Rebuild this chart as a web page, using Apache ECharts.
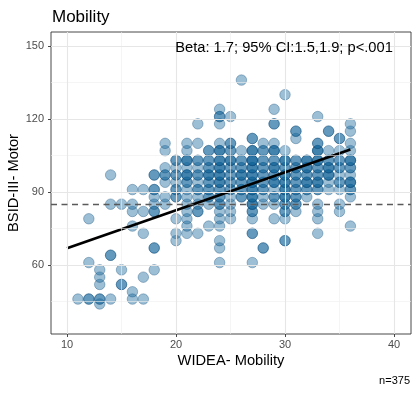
<!DOCTYPE html>
<html><head><meta charset="utf-8">
<script src="https://cdn.jsdelivr.net/npm/echarts@6/dist/echarts.min.js"></script>
<style>html,body{margin:0;padding:0;background:#fff}#c{width:418px;height:393px}</style>
</head><body><div id="c"></div>
<script>
// WIDEA mobility score (x) and BSID-III motor scores observed at that score
const wideaX = [11,12,13,14,15,16,17,18,19,20,21,22,23,24,25,26,27,28,29,30,31,32,33,34,35,36];
const bsidByX = [
  [46],
  [46,46,61,79],
  [44,46,46,52,55,58],
  [46,64,64,85,97],
  [52,52,58,85],
  [46,49,76,82,85,91],
  [46,55,73,82,91],
  [58,67,67,82,82,85,88,91,91,97,97],
  [85,88,94,97,97,100,107,110],
  [70,73,79,88,88,91,91,94,97,97,100,103,103],
  [73,76,79,82,85,88,91,94,94,97,97,97,100,103,103,103,107,110],
  [73,82,82,85,88,91,91,94,97,97,100,103,103,110,118],
  [76,85,88,88,91,91,94,94,97,97,97,100,100,103,103,107,107],
  [61,67,70,76,79,82,85,85,88,88,91,91,94,94,94,97,97,97,100,100,100,103,103,103,107,107,107,110,118,121,121,124],
  [79,82,85,88,91,91,94,94,97,97,100,100,103,103,103,107,107,110,110,121],
  [88,88,91,91,94,94,97,97,97,100,100,103,103,107,136],
  [61,73,73,79,82,82,85,85,85,88,88,88,91,91,91,94,94,94,97,97,97,100,100,100,103,103,103,103,107,107,107,112,112],
  [67,67,85,88,91,91,94,94,97,97,100,100,103,103,107,107,110],
  [79,85,88,88,91,94,94,94,97,97,100,100,100,103,103,107,107,107,110,118,118,124],
  [70,70,79,82,82,85,85,88,88,88,91,91,91,94,94,94,97,97,97,100,100,103,103,103,107,130],
  [82,85,85,88,88,91,91,94,94,97,97,100,100,103,103,112,115,115],
  [88,91,91,94,94,94,97,97,100,100,100,103,103,103],
  [73,79,82,85,91,91,94,94,94,97,97,100,100,103,103,103,107,107,107,110,110,121],
  [91,94,97,97,97,100,100,100,103,103,107,115,115],
  [82,85,91,94,94,97,100,100,103,103,107,112,112],
  [76,88,91,91,94,94,94,97,100,100,103,103,103,107,110,115,118]
];
const fitX = [10, 36];
const fitY = [66.9, 107.5];
const refLineY = 85;
const xTicks = [10, 20, 30, 40];
const xMinor = [15, 25, 35];
const yTicks = [60, 90, 120, 150];
const yMinor = [45, 75, 105, 135];
const chartTitle = 'Mobility';
const xTitle = 'WIDEA- Mobility';
const yTitle = 'BSID-III- Motor';
const annotation = 'Beta: 1.7; 95% CI:1.5,1.9; p<.001';
const caption = 'n=375';

const points = [];
wideaX.forEach((x, i) => bsidByX[i].forEach(y => points.push([x, y])));
const fitData = fitX.map((x, i) => [x, fitY[i]]);

const FONT = 'Liberation Sans, Arial, Helvetica, sans-serif';
const gridLines = [].concat(
  xMinor.map(v => ({xAxis: v, lineStyle: {color: '#efefef', width: 0.6, type: 'solid'}})),
  yMinor.map(v => ({yAxis: v, lineStyle: {color: '#efefef', width: 0.6, type: 'solid'}})),
  xTicks.map(v => ({xAxis: v, lineStyle: {color: '#e6e6e6', width: 1.1, type: 'solid'}})),
  yTicks.map(v => ({yAxis: v, lineStyle: {color: '#e6e6e6', width: 1.1, type: 'solid'}}))
);

const chart = echarts.init(document.getElementById('c'), null, {renderer: 'canvas'});
chart.setOption({
  animation: false,
  backgroundColor: '#ffffff',
  title: {text: chartTitle, left: 47, top: 4, textStyle: {fontFamily: FONT, fontSize: 17, fontWeight: 'normal', color: '#000'}},
  grid: {left: 51, top: 32, width: 360, height: 302, show: true, borderColor: '#333333', borderWidth: 0.9, backgroundColor: 'transparent', containLabel: false, outerBoundsMode: 'none'},
  xAxis: {
    type: 'value', min: 8.53, max: 41.56,
    name: xTitle, nameLocation: 'middle', nameGap: 19, nameMoveOverlap: false,
    nameTextStyle: {fontFamily: FONT, fontSize: 14.7, color: '#000'},
    axisLine: {show: false},
    axisTick: {show: true, length: 3, lineStyle: {color: '#333', width: 0.9}, customValues: xTicks},
    axisLabel: {fontFamily: FONT, fontSize: 11, color: '#4d4d4d', margin: 5, customValues: xTicks},
    splitLine: {show: false}
  },
  yAxis: {
    type: 'value', min: 31.64, max: 155.76,
    name: yTitle, nameLocation: 'middle', nameGap: 30, nameRotate: 90, nameMoveOverlap: false,
    nameTextStyle: {fontFamily: FONT, fontSize: 14.7, color: '#000'},
    axisLine: {show: false},
    axisTick: {show: true, length: 3, lineStyle: {color: '#333', width: 0.9}, customValues: yTicks},
    axisLabel: {fontFamily: FONT, fontSize: 11, color: '#4d4d4d', margin: 7, customValues: yTicks},
    splitLine: {show: false}
  },
  series: [
    {
      type: 'scatter', data: [], z: 0, silent: true,
      markLine: {silent: true, symbol: 'none', label: {show: false}, animation: false, data: gridLines}
    },
    {
      type: 'scatter', data: points, symbolSize: 10.5, z: 2,
      itemStyle: {color: 'rgba(19,100,155,0.52)', borderColor: 'rgba(12,75,120,0.55)', borderWidth: 0.8}
    },
    {
      type: 'line', data: fitData, showSymbol: false, z: 4,
      lineStyle: {color: '#000', width: 2.7}
    },
    {
      type: 'scatter', data: [], z: 3, silent: true,
      markLine: {silent: true, symbol: 'none', label: {show: false}, animation: false,
        data: [{yAxis: refLineY, lineStyle: {color: '#5a5a5a', width: 1.3, type: [6, 4.5]}}]}
    }
  ],
  graphic: [
    {type: 'text', x: 284, y: 48, z: 100, style: {text: annotation, fontFamily: FONT, fontSize: 14.7, fill: '#000', stroke: null, lineWidth: 0, textAlign: 'center', textVerticalAlign: 'middle'}},
    {type: 'text', x: 410, y: 381, z: 100, style: {text: caption, fontFamily: FONT, fontSize: 11, fill: '#000', stroke: null, lineWidth: 0, textAlign: 'right', textVerticalAlign: 'middle'}}
  ]
});
</script></body></html>
